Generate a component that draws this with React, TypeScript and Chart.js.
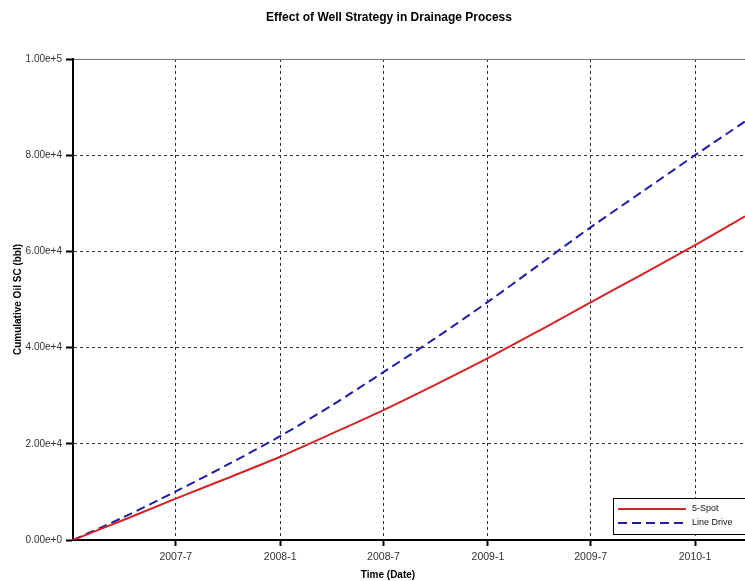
import React, { useEffect, useRef } from "react";
import { Chart, registerables } from "chart.js";

Chart.register(...registerables);

const DATES = [
  "2007-01-01", "2007-04-01", "2007-07-01", "2007-10-01",
  "2008-01-01", "2008-04-01", "2008-07-01", "2008-10-01",
  "2009-01-01", "2009-04-01", "2009-07-01", "2009-10-01",
  "2010-01-01", "2010-03-30",
];
const FIVE_SPOT = [0, 4200, 8600, 12900, 17300, 22100, 27000, 32300, 37800, 43500, 49400, 55300, 61300, 67300];
const LINE_DRIVE = [0, 4800, 10100, 15700, 21600, 28000, 34900, 42000, 49500, 57200, 65000, 72500, 80000, 87000];

const X_TICK_DATES = ["2007-07-01", "2008-01-01", "2008-07-01", "2009-01-01", "2009-07-01", "2010-01-01"];
const X_LABELS = ["2007-7", "2008-1", "2008-7", "2009-1", "2009-7", "2010-1"];
const X_END = "2010-03-30";
const Y_MAX = 100000;

const TITLE = "Effect of Well Strategy in Drainage Process";
const X_TITLE = "Time (Date)";
const Y_TITLE = "Cumulative Oil SC (bbl)";

const FONT = "'Liberation Sans', Arial, sans-serif";

// days since the first date
const START = Date.parse(DATES[0]);
const toDay = (d: string) => Math.round((Date.parse(d) - START) / 86400000);
const X_TICKS = X_TICK_DATES.map(toDay);

const overlay = {
  id: "overlay",
  afterDraw(chart: any) {
    const { ctx, chartArea } = chart;
    ctx.save();
    ctx.fillStyle = "#000";
    ctx.textAlign = "center";
    ctx.textBaseline = "middle";
    ctx.font = `bold 12px ${FONT}`;
    ctx.fillText(TITLE, 389, 18);
    ctx.font = `bold 10px ${FONT}`;
    ctx.fillText(X_TITLE, 388, 575);
    ctx.save();
    ctx.translate(18, (chartArea.top + chartArea.bottom) / 2);
    ctx.rotate(-Math.PI / 2);
    ctx.fillText(Y_TITLE, 0, 0);
    ctx.restore();

    // legend box, bottom right inside the plot
    const left = chartArea.right - 132;
    const top = chartArea.bottom - 42;
    ctx.fillStyle = "#fff";
    ctx.fillRect(left, top, 160, 36);
    ctx.strokeStyle = "#000";
    ctx.lineWidth = 1;
    ctx.strokeRect(left + 0.5, top + 0.5, 160, 36);
    ctx.font = `9px ${FONT}`;
    ctx.textAlign = "left";
    chart.data.datasets.forEach((ds: any, i: number) => {
      const y = top + 11 + i * 14;
      ctx.strokeStyle = ds.borderColor;
      ctx.lineWidth = 2;
      ctx.setLineDash(ds.borderDash || []);
      ctx.beginPath();
      ctx.moveTo(left + 5, y);
      ctx.lineTo(left + 73, y);
      ctx.stroke();
      ctx.setLineDash([]);
      ctx.fillStyle = "#111";
      ctx.fillText(ds.label, left + 79, y);
    });
    ctx.restore();
  },
};

export default function App() {
  const canvasRef = useRef<HTMLCanvasElement>(null);

  useEffect(() => {
    if (!canvasRef.current) return;
    const chart = new Chart(canvasRef.current, {
      type: "line",
      data: {
        datasets: [
          {
            label: "5-Spot",
            data: DATES.map((d, i) => ({ x: toDay(d), y: FIVE_SPOT[i] })),
            borderColor: "#d02626",
            borderWidth: 2,
            pointRadius: 0,
            tension: 0.3,
          },
          {
            label: "Line Drive",
            data: DATES.map((d, i) => ({ x: toDay(d), y: LINE_DRIVE[i] })),
            borderColor: "#1f1f9e",
            borderWidth: 2,
            borderDash: [9, 5],
            pointRadius: 0,
            tension: 0.3,
          },
        ],
      },
      options: {
        responsive: true,
        maintainAspectRatio: false,
        animation: false,
        layout: { padding: { top: 59, right: 0, bottom: 0, left: 0 } },
        plugins: { legend: { display: false }, tooltip: { enabled: false }, title: { display: false } },
        scales: {
          x: {
            type: "linear",
            min: 0,
            max: toDay(X_END),
            afterBuildTicks: (s: any) => {
              s.ticks = X_TICKS.map((v) => ({ value: v }));
            },
            afterFit: (s: any) => {
              s.height = 41;
            },
            ticks: {
              autoSkip: false,
              maxRotation: 0,
              padding: 5,
              color: "#333",
              font: { family: FONT, size: 10.5 },
              callback: (v: any) => X_LABELS[X_TICKS.indexOf(Number(v))] ?? "",
            },
            grid: {
              color: "#333",
              lineWidth: 1,
              tickColor: "#000",
              tickWidth: 2,
              tickLength: 6,
              tickBorderDash: [],
            },
            border: { display: true, color: "#000", width: 2, dash: [3, 3] },
          },
          xTop: {
            type: "linear",
            position: "top",
            min: 0,
            max: toDay(X_END),
            afterFit: (s: any) => {
              s.height = 0;
            },
            ticks: { display: false },
            grid: { drawOnChartArea: false, drawTicks: false },
            border: { display: true, color: "#777", width: 1 },
          },
          y: {
            min: 0,
            max: Y_MAX,
            afterFit: (s: any) => {
              s.width = 73;
            },
            ticks: {
              stepSize: 20000,
              padding: 4,
              color: "#333",
              font: { family: FONT, size: 10 },
              callback: (v: any) => Number(v).toExponential(2),
            },
            grid: {
              color: (c: any) => (c.tick && c.tick.value === Y_MAX ? "#777" : "#333"),
              lineWidth: 1,
              tickColor: "#000",
              tickWidth: 2,
              tickLength: 7,
              tickBorderDash: [],
            },
            border: {
              display: true,
              color: "#000",
              width: 2,
              dash: (c: any) => (c.tick && c.tick.value === Y_MAX ? [] : [3, 3]),
            },
          },
        },
      } as any,
      plugins: [overlay],
    });
    return () => chart.destroy();
  }, []);

  return (
    <div style={{ position: "fixed", left: 0, top: 0, width: 745, height: 581, background: "#fff" }}>
      <canvas ref={canvasRef} />
    </div>
  );
}
